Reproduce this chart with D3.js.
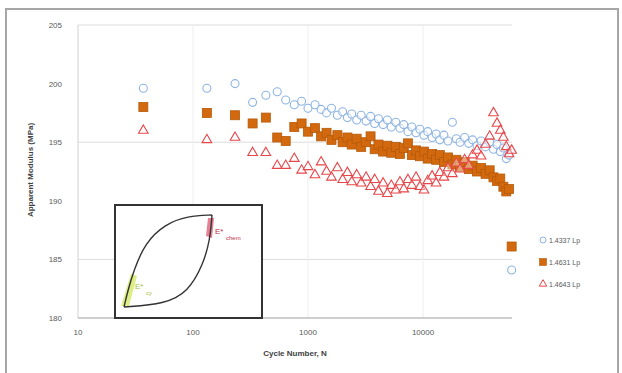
<!DOCTYPE html>
<html>
<head>
<meta charset="utf-8">
<script src="https://cdn.jsdelivr.net/npm/d3@7"></script>
<style>
  body { margin: 0; background: #fff; }
  text { font-family: "Liberation Sans", Arial, sans-serif; }
</style>
</head>
<body>
<div id="chart"></div>
<script>
// cycle numbers (shared by all three specimens)
var cycles = [37, 132, 232, 330, 430, 540, 640, 760, 880, 1000, 1150, 1300, 1450, 1600, 1800,
  2000, 2200, 2400, 2650, 2900, 3200, 3500, 3800, 4100, 4500, 4900, 5300, 5800, 6300, 6800,
  7400, 8000, 8700, 9400, 10200, 11000, 12000, 13000, 14000, 15200, 16500, 18000, 19500,
  21000, 23000, 25000, 27000, 29500, 32000, 35000, 38000, 41000, 44000, 47000, 50000,
  53000, 56000, 59000];

var seriesNames = ["1.4337 Lp", "1.4631 Lp", "1.4643 Lp"];

var modA = [199.6, 199.6, 200.0, 198.4, 199.0, 199.3, 198.6, 198.2, 198.5, 197.9, 198.2, 197.8,
  197.5, 197.9, 197.3, 197.6, 197.1, 197.4, 196.9, 197.3, 196.8, 197.2, 196.6, 197.0, 196.5,
  196.9, 196.3, 196.7, 196.2, 196.5, 195.9, 196.3, 195.8, 196.1, 195.6, 195.9, 195.4, 195.7,
  195.2, 195.6, 195.1, 196.7, 195.3, 195.0, 195.4, 194.9, 195.2, 194.7, 195.1, 194.6, 195.0,
  194.4, 194.8, 194.2, 194.5, 193.6, 193.9, 184.1];

var modB = [198.0, 197.5, 197.3, 196.6, 197.1, 195.4, 195.1, 196.3, 196.6, 195.9, 196.2, 195.5,
  195.8, 195.2, 195.6, 195.0, 195.4, 194.8, 195.3, 194.6, 195.0, 195.5, 194.4, 194.8, 194.2,
  194.7, 194.1, 194.6, 194.0, 194.5, 194.9, 193.9, 194.3, 193.8, 194.2, 193.6, 194.0, 193.5,
  193.9, 193.3, 193.7, 193.1, 193.5, 192.9, 193.3, 192.7, 193.0, 192.5, 192.8, 192.3, 192.6,
  192.0, 191.7, 191.9, 191.2, 190.8, 191.0, 186.1];

var modC = [196.0, 195.2, 195.4, 194.1, 194.1, 193.0, 193.0, 193.6, 192.6, 192.9, 192.2, 193.3,
  192.5, 192.0, 192.8, 191.8, 192.4, 191.6, 192.2, 191.5, 192.0, 191.2, 191.8, 190.8, 191.5,
  190.6, 191.3, 190.9, 191.6, 191.0, 191.8, 191.3, 192.0, 191.2, 190.9, 191.7, 192.1, 191.5,
  192.4, 192.0, 192.8, 192.3, 193.2, 192.7, 193.5, 193.0, 193.9, 194.3, 193.8, 194.8, 195.5,
  197.5, 196.6, 196.0, 195.4, 194.6, 194.0, 194.3];

var yTicks = [180, 185, 190, 195, 200, 205];
var yGrid = [185, 195, 205];
var xTicks = [10, 100, 1000, 10000];

var W = 622, H = 373;
var svg = d3.select('#chart').append('svg')
  .attr('width', W).attr('height', H);

// outer frame
svg.append('rect').attr('x', 6).attr('y', 9).attr('width', 612).attr('height', 370)
  .attr('fill', '#fff').attr('stroke', '#a6a6a6').attr('stroke-width', 2);

var x = d3.scaleLog().domain([10, 100000]).range([78, 538]);
var y = d3.scaleLinear().domain([180, 205]).range([318, 25]);
var xEnd = 512;

//grid
svg.selectAll('.hg').data(yGrid).enter().append('line')
  .attr('x1', 78).attr('x2', xEnd)
  .attr('y1', function(d) { return y(d); }).attr('y2', function(d) { return y(d); })
  .attr('stroke', '#dcdcdc').attr('stroke-width', 1);
svg.selectAll('.vg').data(xTicks.slice(1)).enter().append('line')
  .attr('y1', y(205)).attr('y2', y(180))
  .attr('x1', function(d) { return x(d); }).attr('x2', function(d) { return x(d); })
  .attr('stroke', '#eeeeee').attr('stroke-width', 1);

// axes lines
svg.append('line').attr('x1', 78).attr('x2', 78).attr('y1', y(205)).attr('y2', y(180))
  .attr('stroke', '#d0d0d0');
svg.append('line').attr('x1', 78).attr('x2', xEnd).attr('y1', y(180)).attr('y2', y(180))
  .attr('stroke', '#a0a0a0').attr('stroke-width', 1.2);

// tick labels
svg.selectAll('.yl').data(yTicks).enter().append('text')
  .attr('x', 62).attr('y', function(d) { return y(d) + 3; })
  .attr('text-anchor', 'end').attr('font-size', 8).attr('fill', '#595959')
  .text(function(d) { return d; });
svg.selectAll('.xl').data(xTicks).enter().append('text')
  .attr('x', function(d) { return x(d); }).attr('y', 335)
  .attr('text-anchor', 'middle').attr('font-size', 8).attr('fill', '#595959')
  .text(function(d) { return d; });

// axis titles
svg.append('text').attr('transform', 'translate(33,170) rotate(-90)')
  .attr('text-anchor', 'middle').attr('font-size', 8).attr('font-weight', 'bold')
  .attr('fill', '#404040').text('Apparent Modulus (MPa)');
svg.append('text').attr('x', 295).attr('y', 356)
  .attr('text-anchor', 'middle').attr('font-size', 8).attr('font-weight', 'bold')
  .attr('fill', '#404040').text('Cycle Number, N');

// markers
var triPath = d3.symbol().type(d3.symbolTriangle).size(40)();

function drawSeries(vals, kind) {
  var g = svg.append('g');
  var pts = g.selectAll('.p').data(vals).enter();
  if (kind === 'circle') {
    pts.append('circle')
      .attr('cx', function(d, i) { return x(cycles[i]); })
      .attr('cy', function(d) { return y(d); })
      .attr('r', 4)
      .attr('fill', 'rgba(255,255,255,0.5)').attr('stroke', '#8eb4e3').attr('stroke-width', 1.1);
  } else if (kind === 'square') {
    pts.append('rect')
      .attr('x', function(d, i) { return x(cycles[i]) - 4.5; })
      .attr('y', function(d) { return y(d) - 4.5; })
      .attr('width', 9).attr('height', 9)
      .attr('fill', '#d2690e').attr('stroke', '#b55a0a').attr('stroke-width', 0.8);
  } else {
    pts.append('path')
      .attr('d', triPath)
      .attr('transform', function(d, i) { return 'translate(' + x(cycles[i]) + ',' + y(d) + ')'; })
      .attr('fill', 'rgba(255,255,255,0.4)').attr('stroke', '#e8474a').attr('stroke-width', 1.1);
  }
}
drawSeries(modA, 'circle');
drawSeries(modB, 'square');
drawSeries(modC, 'triangle');

// legend
var leg = svg.append('g').attr('transform', 'translate(543,240)');
seriesNames.forEach(function(name, i) {
  var ly = i * 22;
  if (i === 0) {
    leg.append('circle').attr('cx', 0).attr('cy', ly).attr('r', 3)
      .attr('fill', '#fff').attr('stroke', '#8eb4e3');
  } else if (i === 1) {
    leg.append('rect').attr('x', -3.5).attr('y', ly - 3.5).attr('width', 7).attr('height', 7)
      .attr('fill', '#d2690e').attr('stroke', '#b55a0a').attr('stroke-width', 0.6);
  } else {
    leg.append('path').attr('d', d3.symbol().type(d3.symbolTriangle).size(24)())
      .attr('transform', 'translate(0,' + ly + ')')
      .attr('fill', '#fff').attr('stroke', '#e8474a');
  }
  leg.append('text').attr('x', 6).attr('y', ly + 3).attr('font-size', 7)
    .attr('fill', '#595959').text(name);
});

// inset: hysteresis loop sketch
var inset = svg.append('g');
inset.append('rect').attr('x', 115).attr('y', 205).attr('width', 147).attr('height', 113)
  .attr('fill', '#fff').attr('stroke', '#333').attr('stroke-width', 2);
// highlight strips
inset.append('path').attr('d', 'M208,218 L214,218 L212,238 L206,236 Z')
  .attr('fill', '#e0607a').attr('opacity', 0.8);
inset.append('path').attr('d', 'M121,306 L129,306 L137,276 L131,274 Z')
  .attr('fill', '#d9ec7a').attr('opacity', 0.9);
var line = d3.line().curve(d3.curveBasis);
inset.append('path')
  .attr('d', line([[124, 307], [128, 290], [134, 270], [145, 243], [165, 224], [188, 216], [212, 215]]))
  .attr('fill', 'none').attr('stroke', '#333').attr('stroke-width', 1.4);
inset.append('path')
  .attr('d', line([[212, 215], [210, 240], [203, 265], [188, 292], [165, 304], [124, 307]]))
  .attr('fill', 'none').attr('stroke', '#333').attr('stroke-width', 1.4);
inset.append('text').attr('x', 215).attr('y', 234).attr('font-size', 8).attr('fill', '#c0304a').text('E*');
inset.append('text').attr('x', 226).attr('y', 240).attr('font-size', 6).attr('fill', '#c0304a').text('chem');
inset.append('text').attr('x', 135).attr('y', 289).attr('font-size', 8).attr('fill', '#a8c040').text('E*');
inset.append('text').attr('x', 146).attr('y', 295).attr('font-size', 6).attr('fill', '#a8c040').text('cy');
</script>
</body>
</html>
